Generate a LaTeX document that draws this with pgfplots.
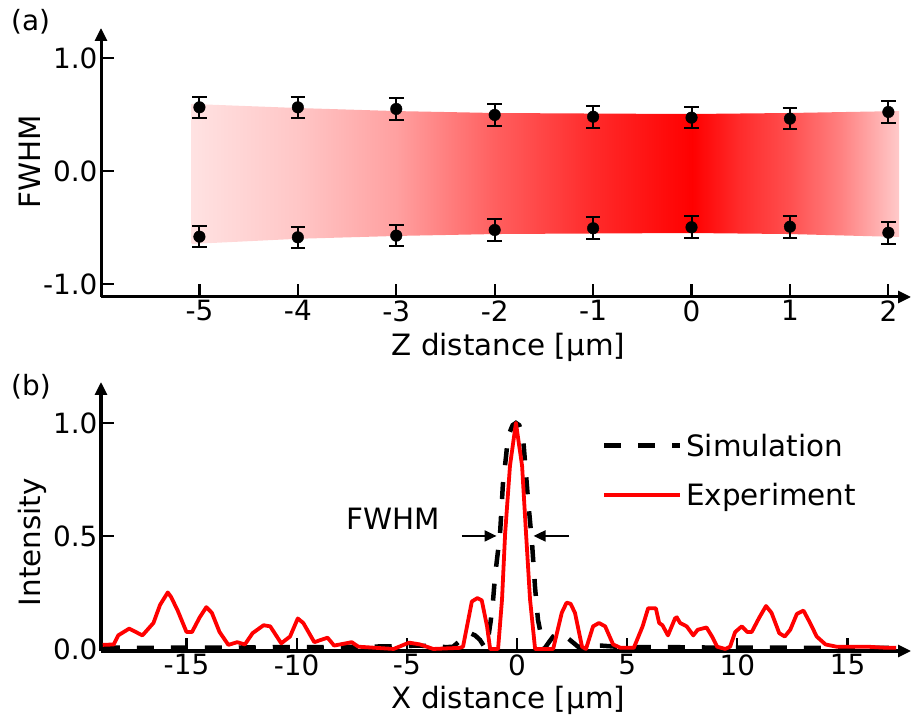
\documentclass[border=0pt]{standalone}
\usepackage{fontspec}
\setmainfont{DejaVu Sans}
\usepackage{pgfplots}
\pgfplotsset{compat=1.18}
\usetikzlibrary{arrows.meta}

\definecolor{sA}{RGB}{255,226,226}
\definecolor{sB}{RGB}{255,198,198}
\definecolor{sC}{RGB}{255,160,160}
\definecolor{sD}{RGB}{255,95,95}
\definecolor{sE}{RGB}{255,42,42}
\definecolor{sF}{RGB}{255,0,0}
\definecolor{sG}{RGB}{255,45,45}
\definecolor{sH}{RGB}{255,80,80}
\definecolor{sI}{RGB}{255,128,128}
\definecolor{sJ}{RGB}{255,202,202}
\pgfdeclarehorizontalshading{band}{100bp}{color(0bp)=(sA); color(25bp)=(sA); color(32.52bp)=(sB); color(39.48bp)=(sC); color(46.45bp)=(sD); color(53.41bp)=(sE); color(60.38bp)=(sF); color(63.86bp)=(sG); color(67.34bp)=(sH); color(70.82bp)=(sI); color(75bp)=(sJ); color(100bp)=(sJ)}

\pgfplotsset{
  common/.style={
    scale only axis, width=810bp, height=269bp,
    axis lines=left,
    axis line style={line width=3bp, -{Triangle[length=13bp,width=12bp]}},
    tick align=inside, major tick length=13bp,
    tick style={line width=2.2bp, black},
    /pgf/number format/assume math mode=true,
    ticklabel style={font=\fontsize{28}{32}\selectfont},
    yticklabel style={/pgf/number format/.cd, fixed, fixed zerofill, precision=1},
    label style={font=\fontsize{29.5}{34}\selectfont},
    clip=false,
  },
  ebar/.style={only marks, mark=*, mark size=5.8bp, black,
    error bars/.cd, y dir=both, y explicit,
    error bar style={line width=2bp, black},
    error mark options={rotate=90, mark size=7.3bp, line width=2bp, black}},
}

\begin{document}
\begin{tikzpicture}
\useasboundingbox (0,0) rectangle (912bp,718bp);

% ---------------- (a) ----------------
\begin{axis}[common,
  at={(101bp,421bp)}, anchor=south west,
  xmin=-6, xmax=2.23, ymin=-1.115, ymax=1.265,
  xtick={-5,-4,-3,-2,-1,0,1,2}, ytick={-1,0,1},
  xlabel={Z distance [μm]}, ylabel={FWHM},
  xlabel style={at={(axis description cs:0.503,-0.219)}, anchor=base},
  ylabel style={at={(axis description cs:-0.075,0.502)}, anchor=base},
]
\addplot[draw=none, shading=band] coordinates {
 (-5.08,0.593) (-4,0.557) (-3,0.53) (-2,0.513) (-1,0.508) (0,0.504) (1,0.513) (2.11,0.53)
 (2.11,-0.584) (1,-0.558) (0,-0.549) (-1,-0.553) (-2,-0.558) (-3,-0.575) (-4,-0.60) (-5.08,-0.646) (-5.08,0.593)
};
\addplot[ebar] coordinates {
 (-5,0.563) +- (0,0.095)
 (-4,0.563) +- (0,0.095)
 (-3,0.549) +- (0,0.095)
 (-2,0.496) +- (0,0.096)
 (-1,0.480) +- (0,0.096)
 (0,0.472) +- (0,0.096)
 (1,0.463) +- (0,0.096)
 (2,0.522) +- (0,0.096)
};
\addplot[ebar] coordinates {
 (-5,-0.581) +- (0,0.095)
 (-4,-0.587) +- (0,0.095)
 (-3,-0.572) +- (0,0.095)
 (-2,-0.522) +- (0,0.098)
 (-1,-0.507) +- (0,0.098)
 (0,-0.498) +- (0,0.098)
 (1,-0.493) +- (0,0.098)
 (2,-0.546) +- (0,0.098)
};
\end{axis}

% ---------------- (b) ----------------
\begin{axis}[common,
  at={(101bp,67bp)}, anchor=south west,
  xmin=-18.88, xmax=17.88, ymin=-0.009, ymax=1.181,
  xtick={-15,-10,-5,0,5,10,15}, ytick={0,0.5,1},
  xlabel={X distance [μm]}, ylabel={Intensity},
  xlabel style={at={(axis description cs:0.503,-0.212)}, anchor=base},
  ylabel style={at={(axis description cs:-0.075,0.405)}, anchor=base},
  legend style={draw=none, fill=none, at={(axis description cs:0.618,0.807)}, anchor=north west,
    font=\fontsize{29.5}{34}\selectfont, inner sep=0pt, row sep=20bp, column sep=4bp,
    nodes={inner sep=0pt, text height=22bp, text depth=7bp},
    cells={anchor=west}},
  legend image code/.code={\draw[#1] (0bp,3bp) -- (76bp,3bp);},
  legend cell align=left,
]
\addplot[black, line width=4.5bp, dash pattern=on 17bp off 17bp] coordinates {
 (-18.8,0.006) (-17,0.005) (-15,0.006) (-13,0.006) (-11,0.008) (-9,0.008) (-7,0.01)
 (-5.5,0.012) (-4.5,0.015) (-3.8,0.012) (-3.2,0.008) (-2.9,0.01) (-2.6,0.035) (-2.35,0.06)
 (-2.13,0.07) (-1.9,0.06) (-1.68,0.04) (-1.45,0.005) (-1.32,0.04) (-1.2,0.12) (-1.1,0.2)
 (-1.0,0.32) (-0.88,0.42) (-0.77,0.51) (-0.64,0.73) (-0.5,0.85) (-0.41,0.94) (-0.2,0.99)
 (-0.05,1.0) (0.1,0.99) (0.27,0.94) (0.5,0.66) (0.68,0.47) (0.82,0.27) (0.95,0.13)
 (1.13,0.04) (1.27,0.005) (1.45,0.03) (1.64,0.055) (1.95,0.07) (2.2,0.055) (2.4,0.04)
 (2.77,0.01) (3.2,0.012) (3.8,0.015) (4.5,0.01) (5.5,0.008) (7,0.008) (9,0.006)
 (11,0.006) (13,0.005) (15,0.005) (17,0.005)
};
\addlegendentry{Simulation}
\addplot[red, line width=3.8bp, line join=round] coordinates {
 (-18.8,0.018) (-18.3,0.02) (-18.1,0.06) (-17.6,0.09) (-17.4,0.08) (-17.0,0.06) (-16.5,0.115)
 (-16.2,0.195) (-15.85,0.25) (-15.7,0.23) (-15.4,0.17) (-15.0,0.075) (-14.75,0.075) (-14.4,0.14)
 (-14.1,0.185) (-13.85,0.16) (-13.5,0.075) (-13.1,0.018) (-12.7,0.03) (-12.35,0.02) (-12.0,0.07)
 (-11.5,0.105) (-11.2,0.1) (-10.7,0.025) (-10.3,0.055) (-9.95,0.135) (-9.7,0.115) (-9.2,0.03)
 (-8.6,0.05) (-8.3,0.015) (-7.5,0.03) (-7.2,0.01) (-6.4,0.005) (-5.6,0) (-4.9,0.028) (-4.4,0.02)
 (-3.8,0) (-2.6,0.005) (-2.45,0.01) (-2.05,0.21) (-1.8,0.225) (-1.6,0.215) (-1.36,0.1) (-1.22,0)
 (-0.86,0) (-0.68,0.22) (-0.54,0.51) (-0.32,0.81) (-0.05,1.0) (0.23,0.81) (0.41,0.51) (0.59,0.22)
 (0.82,0) (1.64,0) (2.03,0.16) (2.25,0.205) (2.43,0.2) (2.63,0.16) (2.95,0.01) (3.13,0) (3.45,0.1)
 (3.72,0.115) (4.0,0.1) (4.36,0.02) (4.7,0.005) (5.3,0.005) (5.7,0.1) (5.95,0.18) (6.3,0.18)
 (6.45,0.115) (6.6,0.105) (6.85,0.06) (7.17,0.135) (7.25,0.14) (7.4,0.115) (7.7,0.1) (8.0,0.06)
 (8.2,0.085) (8.6,0.095) (8.85,0.055) (9.08,0.01) (9.45,0) (9.67,0.01) (9.9,0.075) (10.2,0.1)
 (10.45,0.075) (10.65,0.075) (11.0,0.14) (11.3,0.19) (11.55,0.16) (11.9,0.07) (12.15,0.055)
 (12.4,0.085) (12.7,0.155) (13.0,0.17) (13.3,0.115) (13.6,0.055) (14.0,0.02) (14.5,0.01)
 (15.9,0.01) (16.8,0.005) (17.2,0.005)
};
\addlegendentry{Experiment}
\draw[line width=2bp, -{Triangle[length=12bp,width=11bp]}] (axis cs:-2.5,0.5) -- (axis cs:-0.93,0.5);
\draw[line width=2bp, -{Triangle[length=12bp,width=11bp]}] (axis cs:2.36,0.5) -- (axis cs:0.75,0.5);
\node[anchor=base, inner sep=0pt, font=\fontsize{29.5}{34}\selectfont] at (axis cs:-5.63,0.527) {FWHM};
\end{axis}

\node[anchor=west, inner sep=0pt, font=\fontsize{28}{32}\selectfont] at (11bp,696bp) {(a)};
\node[anchor=west, inner sep=0pt, font=\fontsize{28}{32}\selectfont] at (11bp,331bp) {(b)};
\end{tikzpicture}
\end{document}
